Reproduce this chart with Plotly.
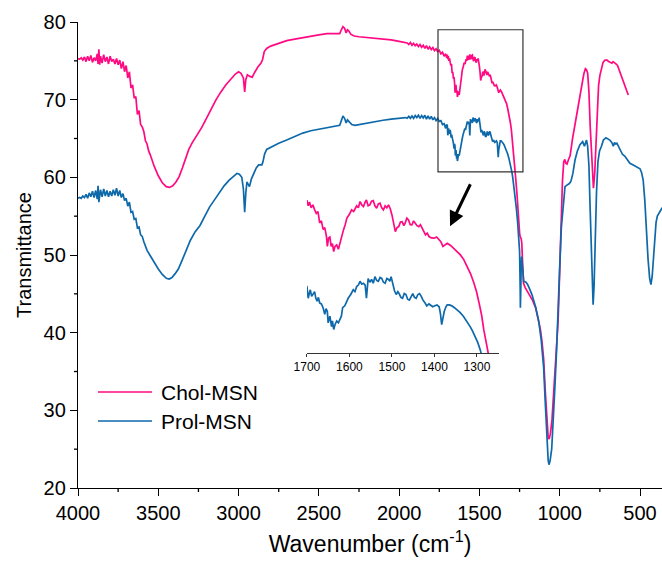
import plotly.graph_objects as go

# ---------------- data ----------------
chol_wn = [4000, 3990, 3980, 3970, 3960, 3950, 3940, 3930, 3920, 3910, 3900, 3890, 3880, 3875, 3870, 3865,
           3860, 3850, 3840, 3830, 3820, 3810, 3800, 3790, 3780, 3770, 3760, 3750, 3740, 3730, 3720, 3710,
           3700, 3690, 3680, 3670, 3660, 3650, 3640, 3630, 3620, 3610, 3600, 3590, 3580, 3570, 3560, 3550,
           3525, 3500, 3475, 3450, 3430, 3410, 3390, 3370, 3350, 3330, 3310, 3290, 3260, 3230, 3200, 3170,
           3140, 3110, 3080, 3050, 3020, 3000, 2985, 2970, 2962, 2955, 2945, 2930, 2915, 2900, 2880, 2860,
           2850, 2840, 2825, 2800, 2750, 2700, 2650, 2600, 2550, 2500, 2450, 2400, 2370, 2360, 2350, 2340,
           2330, 2322, 2315, 2300, 2280, 2250, 2200, 2150, 2100, 2050, 2000, 1960, 1950, 1940, 1930, 1920,
           1910, 1900, 1890, 1880, 1870, 1860, 1850, 1840, 1830, 1820, 1810, 1800, 1790, 1780, 1770, 1760,
           1750, 1740, 1730, 1720, 1710, 1704, 1700, 1697, 1694, 1690, 1686, 1682, 1678, 1674, 1670, 1666,
           1662, 1658, 1654, 1652, 1649, 1646, 1643, 1640, 1637, 1634, 1630, 1626, 1622, 1618, 1614, 1610,
           1606, 1600, 1595, 1590, 1583, 1579, 1575, 1571, 1567, 1563, 1560, 1556, 1552, 1548, 1544, 1540,
           1536, 1532, 1528, 1524, 1520, 1516, 1512, 1508, 1504, 1500, 1496, 1492, 1488, 1484, 1480, 1476,
           1472, 1469, 1465, 1461, 1457, 1453, 1449, 1445, 1441, 1437, 1433, 1429, 1425, 1421, 1417, 1413,
           1407, 1401, 1395, 1390, 1385, 1380, 1375, 1370, 1362, 1355, 1347, 1339, 1331, 1323, 1315, 1307,
           1301, 1295, 1289, 1284, 1278, 1273, 1266, 1260, 1254, 1249, 1245, 1240, 1236, 1232, 1226, 1215,
           1200, 1185, 1170, 1150, 1135, 1120, 1110, 1100, 1090, 1080, 1072, 1066, 1058, 1048, 1040, 1030,
           1020, 1010, 1000, 990, 983, 975, 968, 962, 955, 945, 935, 920, 905, 895, 880, 864,
           850, 840, 834, 826, 818, 810, 800, 790, 782, 774, 766, 758, 750, 740, 730, 718,
           705, 695, 685, 675, 668, 660, 650, 640, 630, 615, 600, 585, 573]
chol_t = [75.3, 75.2, 75.4, 75.1, 75.5, 74.9, 75.6, 75.0, 75.7, 74.8, 75.4, 75.0, 75.9, 74.6, 76.5, 74.5,
          75.6, 74.7, 75.8, 74.9, 75.5, 74.6, 75.6, 74.9, 75.2, 74.6, 75.3, 74.5, 75.1, 74.0, 74.9, 73.6,
          74.4, 72.8, 73.6, 71.5, 71.9, 70.2, 70.4, 68.1, 68.6, 66.8, 66.5, 65.9, 64.7, 64.3, 63.4, 62.9,
          61.4, 60.2, 59.3, 58.8, 58.7, 58.9, 59.4, 60.1, 61.2, 62.5, 63.6, 64.4, 65.4, 66.4, 67.6, 68.9,
          70.0, 71.0, 71.9, 72.6, 73.3, 73.6, 73.4, 72.8, 71.0, 72.6, 73.2, 73.0, 72.9, 73.5, 74.2, 74.7,
          75.2, 76.2, 76.6, 76.9, 77.3, 77.6, 77.8, 78.0, 78.2, 78.35, 78.5, 78.5, 78.5, 79.0, 79.4, 79.2,
          78.6, 79.0, 78.9, 78.4, 78.2, 78.1, 78.0, 77.9, 77.8, 77.7, 77.5, 77.35, 77.3, 77.1, 77.35, 77.0,
          77.25, 76.95, 77.15, 76.85, 77.1, 76.75, 77.0, 76.6, 76.95, 76.5, 76.8, 76.45, 76.7, 76.3, 76.55, 76.2,
          76.35, 75.9, 76.1, 75.6, 75.9, 75.4, 75.8, 75.2, 75.6, 75.0, 75.3, 74.8, 74.4, 74.6, 73.4, 73.6,
          72.7, 72.9, 71.95, 70.9, 71.8, 71.9, 70.9, 71.2, 70.35, 70.9, 71.06, 70.6, 71.4, 71.9, 72.65, 73.2,
          73.9, 74.3, 74.77, 74.6, 75.2, 75.0, 75.66, 75.3, 75.13, 75.6, 75.83, 75.2, 75.3, 75.7, 75.76, 75.2,
          74.95, 75.4, 75.48, 75.0, 74.77, 75.2, 75.0, 75.3, 74.9, 74.24, 73.5, 72.47, 72.9, 73.0, 73.5, 73.53,
          73.1, 73.36, 73.9, 73.7, 73.2, 73.18, 73.6, 73.36, 73.1, 73.0, 73.2, 72.83, 72.5, 72.12, 72.3, 71.95,
          71.8, 71.77, 71.9, 71.66, 71.4, 70.9, 71.1, 71.24, 71.0, 70.7, 70.4, 70.0, 69.5, 68.77, 68.0, 67.0,
          66.1, 64.9, 63.6, 62.07, 60.7, 59.6, 57.8, 55.6, 53.6, 52.6, 52.3, 52.1, 51.5, 49.0, 46.4, 45.8,
          45.3, 44.8, 44.2, 43.2, 41.9, 40.4, 38.8, 36.6, 32.5, 28.5, 26.6, 26.3, 27.0, 28.8, 31.5, 34.8,
          37.8, 41.5, 48.0, 55.5, 59.5, 62.0, 62.3, 61.8, 61.7, 62.3, 62.8, 65.0, 66.8, 67.9, 70.1, 72.1,
          73.3, 74.0, 73.9, 73.4, 71.0, 66.5, 61.5, 58.6, 60.5, 64.5, 68.5, 71.8, 73.1, 74.2, 74.8, 75.1,
          75.1, 74.9, 74.8, 74.7, 74.9, 74.8, 74.6, 74.4, 73.8, 73.0, 72.0, 71.2, 70.6]

prol_wn = [4000, 3990, 3980, 3970, 3960, 3950, 3940, 3930, 3920, 3910, 3900, 3890, 3880, 3875, 3870, 3860,
           3850, 3840, 3830, 3820, 3810, 3800, 3790, 3780, 3770, 3760, 3750, 3740, 3730, 3720, 3710, 3700,
           3690, 3680, 3670, 3660, 3650, 3640, 3630, 3620, 3610, 3600, 3590, 3580, 3570, 3550, 3525, 3500,
           3475, 3450, 3432, 3415, 3395, 3375, 3350, 3325, 3300, 3270, 3240, 3210, 3180, 3150, 3120, 3090,
           3060, 3030, 3010, 2995, 2980, 2970, 2962, 2955, 2948, 2940, 2932, 2920, 2905, 2890, 2875, 2855,
           2848, 2838, 2825, 2800, 2750, 2700, 2650, 2600, 2550, 2500, 2450, 2400, 2370, 2360, 2350, 2340,
           2330, 2322, 2312, 2295, 2275, 2250, 2200, 2150, 2100, 2050, 2000, 1960, 1950, 1940, 1930, 1920,
           1910, 1900, 1890, 1880, 1870, 1860, 1850, 1840, 1830, 1820, 1810, 1800, 1790, 1780, 1770, 1760,
           1750, 1740, 1730, 1720, 1710, 1704, 1700, 1697, 1694, 1692, 1689, 1686, 1682, 1679, 1676, 1673,
           1670, 1666, 1662, 1658, 1655, 1652, 1650, 1646, 1642, 1640, 1637, 1634, 1630, 1626, 1622, 1619,
           1616, 1611, 1607, 1603, 1597, 1591, 1587, 1583, 1579, 1575, 1571, 1567, 1563, 1560, 1556, 1552,
           1548, 1544, 1540, 1536, 1532, 1528, 1524, 1520, 1516, 1512, 1508, 1505, 1502, 1497, 1494, 1490,
           1486, 1483, 1479, 1475, 1471, 1467, 1463, 1459, 1455, 1451, 1447, 1443, 1439, 1435, 1431, 1427,
           1422, 1418, 1413, 1409, 1404, 1399, 1394, 1389, 1386, 1383, 1380, 1377, 1373, 1370, 1365, 1359,
           1353, 1347, 1340, 1332, 1324, 1316, 1310, 1304, 1298, 1292, 1285, 1278, 1270, 1262, 1256, 1250,
           1246, 1245, 1242, 1240, 1237, 1233, 1228, 1224, 1210, 1200, 1185, 1173, 1150, 1130, 1115, 1100,
           1090, 1080, 1072, 1067, 1060, 1050, 1040, 1030, 1020, 1010, 1000, 990, 983, 975, 967, 955,
           940, 930, 918, 905, 890, 874, 857, 846, 838, 833, 826, 818, 812, 805, 797, 792,
           786, 779, 771, 762, 752, 740, 728, 712, 700, 688, 676, 666, 659, 652, 644, 636,
           625, 610, 594, 575, 563, 542, 520, 500, 490, 480, 470, 460, 450, 440, 432, 424,
           416, 408, 400, 392, 385, 376, 368, 362]
prol_t = [57.3, 57.4, 57.3, 57.6, 57.4, 57.8, 57.3, 58.0, 57.5, 58.2, 57.4, 58.3, 57.2, 58.9, 56.8, 58.4,
          57.5, 58.5, 57.6, 58.3, 57.5, 58.2, 57.6, 58.4, 57.7, 58.6, 57.6, 58.3, 57.4, 57.9, 57.0, 57.3,
          56.3, 56.8, 55.5, 55.6, 54.6, 54.7, 53.5, 53.6, 52.6, 52.4, 51.7, 51.2, 50.6, 49.9, 49.0, 48.2,
          47.5, 47.0, 46.9, 47.1, 47.6, 48.2, 49.4, 50.7, 51.9, 53.0, 53.8, 55.0, 56.2, 57.1, 58.0, 58.9,
          59.6, 60.2, 60.5, 60.4, 60.0, 58.5, 55.5, 58.0, 59.4, 59.1, 58.8, 59.8, 60.6, 61.2, 61.6, 61.6,
          62.0, 63.0, 63.6, 63.9, 64.4, 64.8, 65.3, 65.7, 66.0, 66.2, 66.4, 66.6, 66.7, 67.3, 67.9, 67.6,
          67.0, 67.4, 67.2, 66.8, 66.7, 66.8, 67.0, 67.2, 67.35, 67.5, 67.6, 67.7, 67.6, 67.85, 67.6, 67.9,
          67.6, 67.95, 67.7, 68.0, 67.6, 67.95, 67.65, 68.0, 67.5, 67.9, 67.5, 67.85, 67.4, 67.7, 67.3, 67.6,
          67.2, 67.3, 66.8, 66.9, 66.3, 66.8, 66.65, 65.41, 66.0, 66.3, 65.6, 65.8, 66.1, 65.4, 65.1, 65.5,
          64.9, 64.8, 64.4, 63.7, 64.3, 64.0, 62.8, 63.5, 62.4, 63.0, 62.1, 62.6, 63.0, 62.8, 63.3, 63.5,
          64.4, 64.6, 65.0, 65.4, 65.8, 66.3, 66.1, 66.65, 66.8, 67.2, 66.9, 67.0, 66.8, 65.4, 67.5, 67.1,
          67.4, 67.0, 67.7, 67.3, 67.2, 67.6, 67.5, 67.1, 67.0, 67.5, 67.4, 67.2, 67.7, 66.65, 66.2, 65.8,
          66.1, 65.9, 65.5, 65.4, 65.9, 65.8, 65.3, 65.2, 65.6, 65.9, 65.5, 65.4, 65.8, 65.9, 65.6, 65.2,
          64.9, 64.6, 64.8, 64.7, 64.5, 64.6, 64.7, 64.5, 63.8, 62.6, 63.5, 64.0, 64.5, 64.7, 64.7, 64.6,
          64.4, 64.2, 63.9, 63.5, 63.0, 62.4, 61.9, 61.35, 60.7, 59.9, 58.8, 57.6, 56.0, 54.2, 52.7, 50.5,
          45.5, 43.2, 46.0, 48.5, 49.8, 48.8, 47.2, 46.6, 46.5, 46.2, 45.5, 44.9, 43.3, 41.4, 39.0, 35.5,
          31.0, 26.5, 23.6, 23.0, 23.5, 25.0, 28.5, 33.0, 37.5, 42.0, 48.5, 53.5, 55.5, 57.5, 58.8, 59.0,
          59.2, 59.5, 60.5, 62.2, 63.4, 64.2, 64.6, 64.0, 64.5, 64.8, 64.0, 61.5, 57.0, 51.0, 45.0, 43.6,
          46.0, 52.0, 58.0, 62.0, 63.4, 64.0, 64.8, 65.1, 65.0, 64.8, 64.5, 64.0, 64.5, 64.3, 64.4, 64.1,
          63.5, 63.0, 62.7, 62.2, 61.8, 61.6, 61.3, 61.1, 60.6, 59.6, 57.0, 53.0, 49.5, 47.0, 46.2, 47.3,
          49.5, 52.0, 54.2, 55.0, 55.3, 55.6, 55.9, 56.1]

series_names = ["Chol-MSN", "Prol-MSN"]
series_colors = ["#FF0A82", "#0E69AA"]

x_major = [4000, 3500, 3000, 2500, 2000, 1500, 1000, 500]
x_minor = [3750, 3250, 2750, 2250, 1750, 1250, 750]
y_major = [20, 30, 40, 50, 60, 70, 80]
y_minor = [25, 35, 45, 55, 65, 75]
inset_ticks = [1700, 1600, 1500, 1400, 1300]

FONT = "Liberation Sans, Arial, sans-serif"

fig = go.Figure()
for wn, t, name, col in [(chol_wn, chol_t, series_names[0], series_colors[0]),
                         (prol_wn, prol_t, series_names[1], series_colors[1])]:
    fig.add_trace(go.Scatter(x=wn, y=t, mode="lines", name=name,
                             line=dict(color=col, width=1.7), showlegend=False,
                             xaxis="x", yaxis="y"))
for wn, t, name, col in [(chol_wn, chol_t, series_names[0], series_colors[0]),
                         (prol_wn, prol_t, series_names[1], series_colors[1])]:
    fig.add_trace(go.Scatter(x=wn, y=t, mode="lines", name=name + " (inset)",
                             line=dict(color=col, width=1.7), showlegend=False,
                             xaxis="x2", yaxis="y2"))

XR = [4000, 363]
YR = [20, 80]
tickfont = dict(family=FONT, size=20, color="black")

fig.update_layout(
    width=662, height=564,
    margin=dict(l=78, r=0, t=22, b=76),
    paper_bgcolor="white", plot_bgcolor="white",
    xaxis=dict(range=XR, tickvals=x_major, ticklen=7, ticks="outside", tickcolor="black", tickwidth=1.3,
               showline=True, linecolor="black", linewidth=1.3, showgrid=False, zeroline=False,
               tickfont=tickfont,
               title=dict(text="Wavenumber (cm<sup>-1</sup>)", font=dict(family=FONT, size=23, color="black"),
                          standoff=12)),
    yaxis=dict(range=YR, tickvals=y_major, ticklen=7, ticks="outside", tickcolor="black", tickwidth=1.3,
               showline=True, linecolor="black", linewidth=1.3, showgrid=False, zeroline=False,
               tickfont=tickfont,
               title=dict(text="Transmittance", font=dict(family=FONT, size=20, color="black"),
                          standoff=6)),
    xaxis2=dict(domain=[0.392, 0.721], anchor="y2", range=[1700, 1248], tickvals=inset_ticks,
                showline=True, linecolor="#333", linewidth=1, ticks="outside", ticklen=3,
                tickcolor="#333", showgrid=False, zeroline=False,
                tickfont=dict(family=FONT, size=12, color="black")),
    yaxis2=dict(domain=[0.2897, 0.650], anchor="x2", range=[59.6, 77.4], visible=False,
                showgrid=False, zeroline=False),
)

# minor ticks (short outside ticks between the labelled ones)
for v in x_minor:
    fig.add_shape(type="line", xref="x", yref="paper", ysizemode="pixel", yanchor=0,
                  x0=v, x1=v, y0=0, y1=-4, line=dict(color="black", width=1.3))
for v in y_minor:
    fig.add_shape(type="line", xref="paper", yref="y", xsizemode="pixel", xanchor=0,
                  x0=0, x1=-4, y0=v, y1=v, line=dict(color="black", width=1.3))

# zoom box and arrow
fig.add_shape(type="rect", xref="x", yref="y", x0=1758, x1=1229, y0=60.7, y1=79.0,
              line=dict(color="#333333", width=1.2))
fig.add_annotation(x=1683, y=53.7, ax=1552, ay=59.3, xref="x", yref="y", axref="x", ayref="y",
                   text="", showarrow=True, arrowhead=2, arrowsize=1, arrowwidth=3, arrowcolor="black")

# legend
leg_y = [392, 421]
for i, (name, col) in enumerate(zip(series_names, series_colors)):
    yp = (488 - leg_y[i]) / 466
    fig.add_shape(type="line", xref="paper", yref="paper", x0=(98 - 78) / 584, x1=(152 - 78) / 584,
                  y0=yp, y1=yp, line=dict(color=col, width=1.7))
    fig.add_annotation(x=(159 - 78) / 584, y=yp, xref="paper", yref="paper", text=name,
                       showarrow=False, xanchor="left", yanchor="middle",
                       font=dict(family=FONT, size=21, color="black"))

fig.write_html("out.html")
